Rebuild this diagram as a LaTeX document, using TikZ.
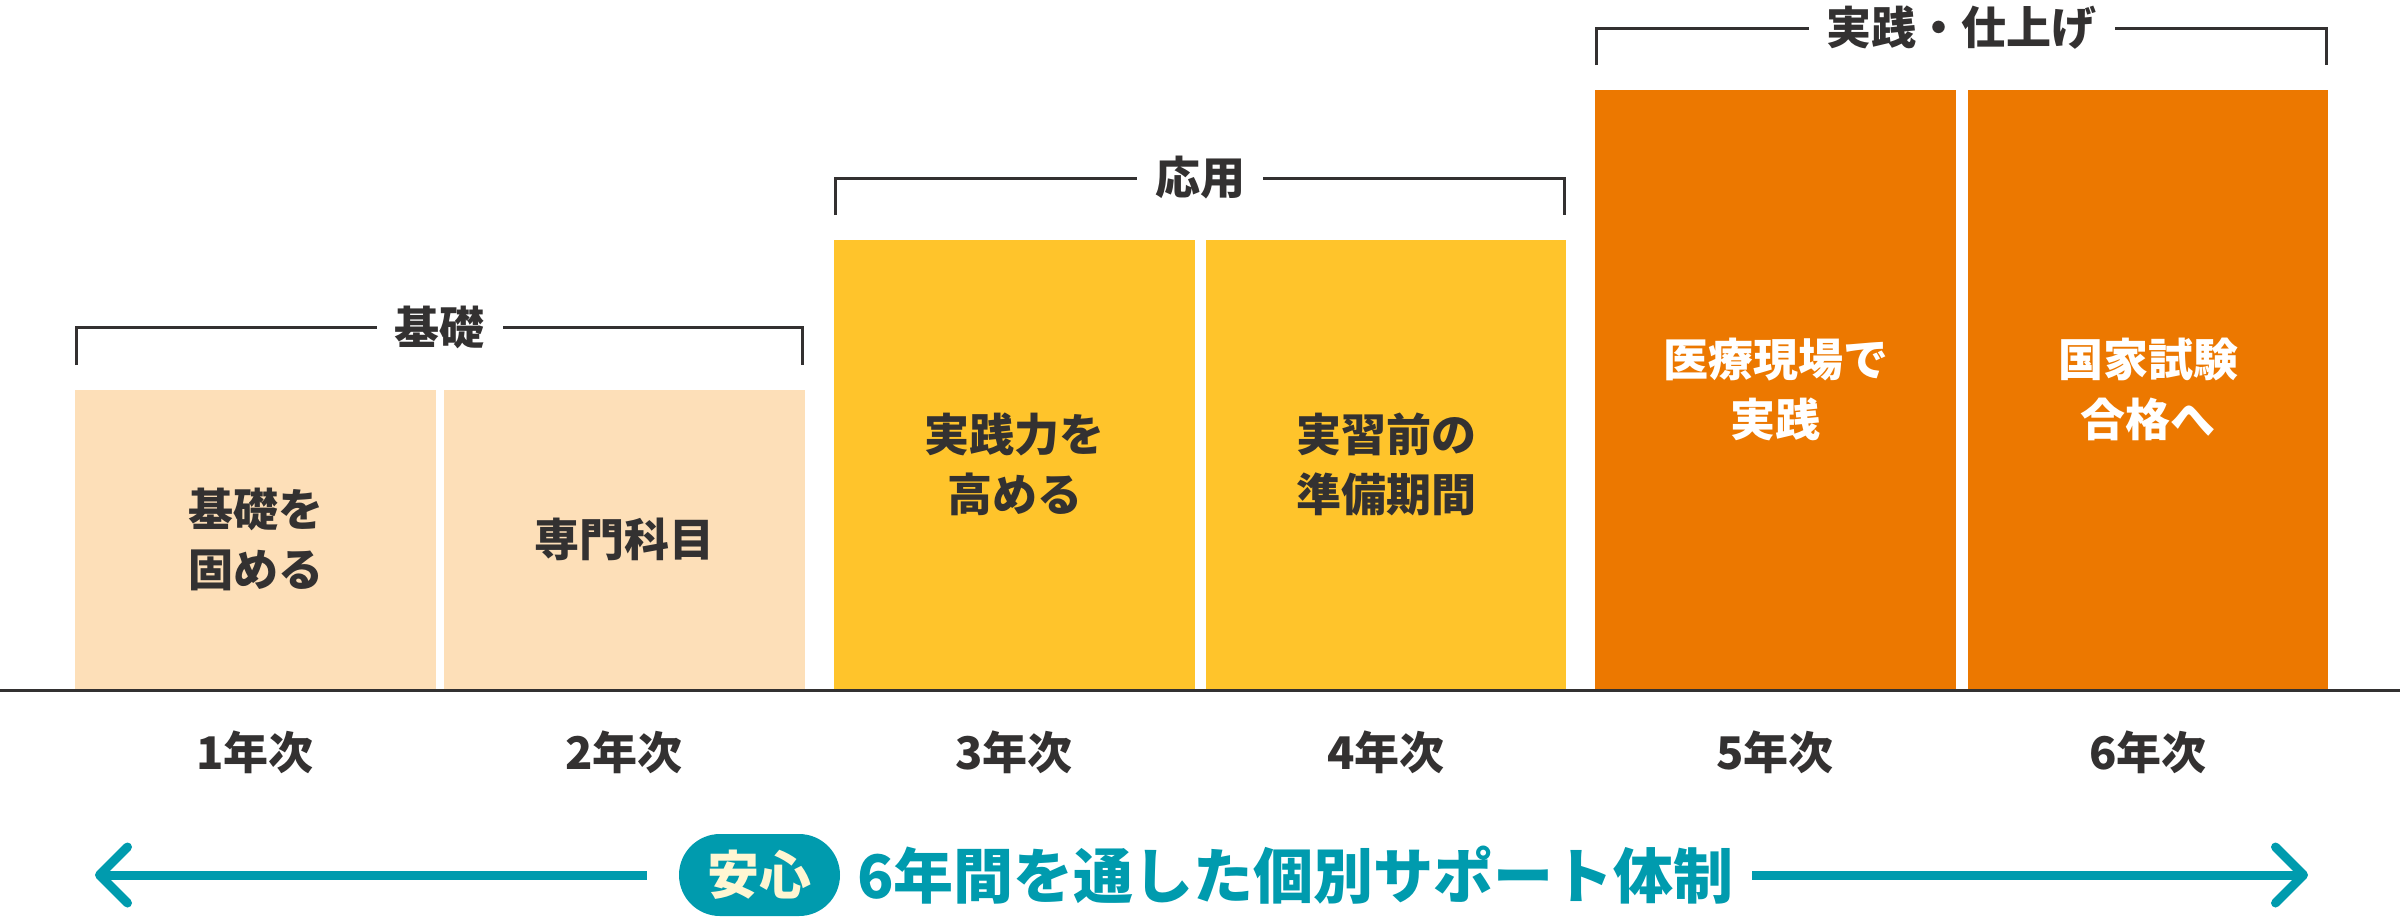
\documentclass[tikz,border=0pt]{standalone}
\usepackage{fontspec}
\setmainfont{Noto Sans CJK JP}
\usetikzlibrary{arrows.meta}
\definecolor{peach}{HTML}{FDDFB8}
\definecolor{gold}{HTML}{FFC42B}
\definecolor{orng}{HTML}{EC7800}
\definecolor{tealc}{HTML}{009BAE}
\definecolor{ink}{HTML}{333131}
\definecolor{cream}{HTML}{FFF6D2}
\begin{document}
\begin{tikzpicture}[x=0.5pt,y=-0.5pt,
  every node/.style={font=\bfseries\fontsize{22.5pt}{30pt}\selectfont, text=ink},
  bar/.style={anchor=south west, inner sep=0pt, minimum width=180.25pt, align=center},
  bar1/.style={bar, fill=peach, minimum height=150pt},
  bar2/.style={bar, fill=gold, minimum height=225pt},
  bar3/.style={bar, fill=orng, minimum height=300pt, text=white},
  yearlbl/.style={inner sep=0pt},
  bracket/.style={draw=ink, line width=1.5pt},
  grouplbl/.style={fill=white, inner xsep=9pt, inner ysep=2pt},
  ground/.style={draw=ink, line width=1.5pt},
  pill/.style={fill=tealc, text=cream, inner sep=0pt, minimum width=80.5pt, minimum height=41pt,
    rounded corners=20.5pt, font=\bfseries\fontsize{26pt}{30pt}\selectfont},
  msg/.style={text=tealc, inner sep=0pt, font=\bfseries\fontsize{30pt}{36pt}\selectfont},
  arrowline/.style={draw=tealc, line width=4.5pt, -{Straight Barb[length=14pt, width=28pt, round]}}
]
\useasboundingbox (0,0) rectangle (2400,918);

% bars
\node[bar1] (y1) at (75,690) {基礎を\\固める};
\node[bar1] (y2) at (444,690) {専門科目};
\node[bar2] (y3) at (834,690) {実践力を\\高める};
\node[bar2] (y4) at (1205.5,690) {実習前の\\準備期間};
\node[bar3] (y5) at (1595,690) {医療現場で\\実践};
\node[bar3] (y6) at (1967.5,690) {国家試験\\合格へ};

% ground line
\draw[ground] (0,690) -- (2400,690);

% year labels
\node[yearlbl] (l1) at (255.25,752) {1年次};
\node[yearlbl] (l2) at (624.25,752) {2年次};
\node[yearlbl] (l3) at (1014.25,752) {3年次};
\node[yearlbl] (l4) at (1385.75,752) {4年次};
\node[yearlbl] (l5) at (1775.25,752) {5年次};
\node[yearlbl] (l6) at (2147.75,752) {6年次};

% brackets
\draw[bracket] (76.5,365) |- (802.5,327) -- (802.5,365);
\node[grouplbl] (g1) at (439.5,327) {基礎};
\draw[bracket] (835.5,215) |- (1564.5,178) -- (1564.5,215);
\node[grouplbl] (g2) at (1200,178) {応用};
\draw[bracket] (1596.5,65) |- (2326.5,28) -- (2326.5,65);
\node[grouplbl] (g3) at (1961.5,28) {実践・仕上げ};

% bottom arrow
\coordinate (ltip) at (95,875);
\coordinate (rtip) at (2308,875);
\node[pill] (anshin) at (759.5,875) {安心};
\node[msg, anchor=west] (msg) at (857,875) {6年間を通した個別サポート体制};
\draw[arrowline, shorten <=16pt] (anshin.west) -- (ltip);
\draw[arrowline, shorten <=9pt] (msg.east) -- (rtip);
\end{tikzpicture}
\end{document}
